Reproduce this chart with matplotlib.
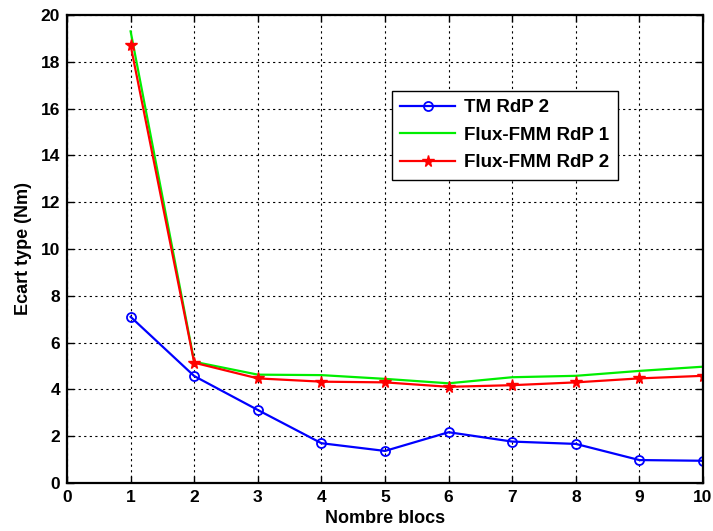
import matplotlib.pyplot as plt

plt.rcParams['font.family'] = ['Liberation Sans', 'DejaVu Sans']
plt.rcParams['font.weight'] = 'bold'

blocs = [1, 2, 3, 4, 5, 6, 7, 8, 9, 10]
tm_rdp2 = [7.1, 4.57, 3.12, 1.70, 1.37, 2.17, 1.77, 1.67, 0.98, 0.95]
flux_rdp1 = [19.3, 5.18, 4.63, 4.61, 4.45, 4.26, 4.52, 4.58, 4.79, 4.97]
flux_rdp2 = [18.7, 5.14, 4.47, 4.33, 4.30, 4.11, 4.18, 4.30, 4.47, 4.58]

fig = plt.figure(figsize=(7.13, 5.31), dpi=100)
ax = fig.add_axes([0.094, 0.0904, 0.892, 0.8814])

ax.plot(blocs, tm_rdp2, color='blue', lw=1.6, marker='o', ms=6.5,
        mfc='none', mec='blue', mew=1.3, label='TM RdP 2')
ax.plot(blocs, flux_rdp1, color='#00ee00', lw=1.6, label='Flux-FMM RdP 1')
ax.plot(blocs, flux_rdp2, color='red', lw=1.6, marker='*', ms=8.5,
        mec='red', label='Flux-FMM RdP 2')

ax.set_xlim(0, 10)
ax.set_ylim(0, 20)
ax.set_xticks(range(0, 11))
ax.set_yticks(range(0, 21, 2))
ax.grid(True, color='black', linestyle=(0, (2, 3)), linewidth=0.8)
ax.tick_params(direction='in', top=True, right=True, length=5, width=1,
               labelsize=12.5, pad=5)
for lab in ax.get_xticklabels() + ax.get_yticklabels():
    lab.set_fontweight('bold')
for sp in ax.spines.values():
    sp.set_linewidth(1.6)

ax.set_xlabel('Nombre blocs', fontsize=13, fontweight='bold', labelpad=4)
ax.set_ylabel('Ecart type (Nm)', fontsize=13, fontweight='bold', labelpad=6)

leg = ax.legend(loc='upper left', bbox_to_anchor=(0.511, 0.838),
                prop={'weight': 'bold', 'size': 13.5}, fancybox=False,
                framealpha=1, edgecolor='black', handlelength=2.9,
                handletextpad=0.5, borderpad=0.45, labelspacing=0.55,
                borderaxespad=0)
leg.get_frame().set_linewidth(1.0)

fig.savefig('out.png', dpi=100)
